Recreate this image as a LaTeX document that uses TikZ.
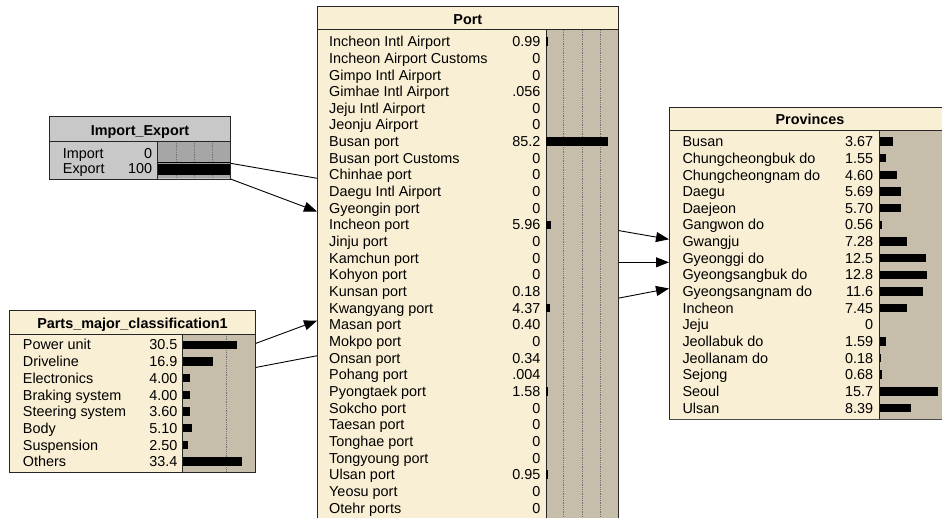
\documentclass[tikz,border=0pt]{standalone}
\usepackage{fontspec}
\setmainfont{Liberation Sans}
\usetikzlibrary{arrows.meta,calc}
\pgfdeclarelayer{back}
\pgfdeclarelayer{bg}
\pgfsetlayers{back,bg,main}
\definecolor{cream}{RGB}{249,239,212}
\definecolor{tanbar}{RGB}{198,190,170}
\definecolor{gbody}{RGB}{200,200,200}
\definecolor{gbar}{RGB}{166,166,166}
\begin{document}
\begin{tikzpicture}[x=1pt,y=-1pt,
 box/.style={draw=black!85, line width=0.9pt, inner sep=0, outer sep=0, anchor=north west},
 lab/.style={anchor=base west, inner sep=0, font=\fontsize{14.4}{16}\selectfont},
 val/.style={anchor=base east, inner sep=0, font=\fontsize{14.4}{16}\selectfont},
 ttl/.style={anchor=base, inner sep=0, font=\fontsize{14.4}{16}\selectfont\bfseries},
 sepln/.style={draw=black!85, line width=0.9pt},
 gridln/.style={draw=black!55, line width=0.6pt, dash pattern=on 0.9pt off 0.9pt},
 link/.style={draw=black, line width=0.9pt},
 arr/.style={link, -{Triangle[length=13pt,width=10pt]}}
]
\useasboundingbox (0,0) rectangle (942,518);
\clip (0,0) rectangle (942,518);
\begin{pgfonlayer}{back}
\fill[white] (0,0) rectangle (942,518);
\end{pgfonlayer}

% ---------- Import_Export ----------
\node[box, fill=gbody, minimum width=181pt, minimum height=63pt] (ie) at (49.5,116) {};
\fill[gbar] (157.5,141) rectangle (230,178.5);
\foreach \gx in {175.8,194.2,212.4} \draw[gridln] (\gx,141) -- (\gx,178.5);
\fill[black] (157.5,162.5) rectangle (230,175.5);
\draw[black!40, line width=0.6pt] (157.5,163.6) -- (230,163.6);
\draw[sepln] (49.5,141) -- (230.5,141);
\draw[sepln] (157.5,141) -- (157.5,179);
\draw[black!85, line width=0.9pt] (ie.north west) rectangle (ie.south east);
\node[ttl] (iet) at (140,136) {Import\_Export};
\node[lab] (iel1) at (62.7,158.3) {Import};
\node[val] (iev1) at (152.3,158.3) {0};
\node[lab] (iel2) at (62.7,173.5) {Export};
\node[val] (iev2) at (152.3,173.5) {100};

% ---------- Parts_major_classification1 ----------
\node[box, fill=cream, minimum width=246pt, minimum height=162.5pt] (parts) at (9.5,310) {};
\fill[tanbar] (182.7,334) rectangle (255,472);
\draw[gridln] (226.7,334) -- (226.7,472);
\draw[sepln] (9.5,334) -- (255.5,334);
\draw[sepln] (182.7,334) -- (182.7,472.5);
\draw[black!85, line width=0.9pt] (parts.north west) rectangle (parts.south east);
\node[ttl] (partst) at (132.5,328.3) {Parts\_major\_classification1};
\foreach \l/\v/\w [count=\i from 0] in {Power unit/30.5/54,Driveline/16.9/29.9,Electronics/4.00/7.1,Braking system/4.00/7.1,Steering system/3.60/6.4,Body/5.10/9,Suspension/2.50/4.4,Others/33.4/59.1} {
  \pgfmathsetmacro\yb{350+16.67*\i}
  \node[lab] (partsl\i) at (22.7,\yb) {\l};
  \node[val] (partsv\i) at (177.7,\yb) {\v};
  \fill[black] (183.2,{\yb-9.45}) rectangle ({183.2+\w},{\yb-0.95});
}

% ---------- Port ----------
\node[box, fill=cream, minimum width=301.5pt, minimum height=530pt] (port) at (317,6) {};
\fill[tanbar] (546,29.5) rectangle (618,536);
\foreach \gx in {563.6,582.4,600.6} \draw[gridln] (\gx,30) -- (\gx,536);
\draw[sepln] (317,29.5) -- (618.5,29.5);
\draw[sepln] (546,29.5) -- (546,536);
\draw[black!85, line width=0.9pt] (port.north west) rectangle (port.south east);
\node[ttl] (portt) at (467.8,25) {Port};
\foreach \l/\v/\w [count=\i from 0] in {Incheon Intl Airport/0.99/1.7,Incheon Airport Customs/0/0,Gimpo Intl Airport/0/0,Gimhae Intl Airport/.056/0,Jeju Intl Airport/0/0,Jeonju Airport/0/0,Busan port/85.2/61.7,Busan port Customs/0/0,Chinhae port/0/0,Daegu Intl Airport/0/0,Gyeongin port/0/0,Incheon port/5.96/4.6,Jinju port/0/0,Kamchun port/0/0,Kohyon port/0/0,Kunsan port/0.18/0,Kwangyang port/4.37/3.8,Masan port/0.40/0,Mokpo port/0/0,Onsan port/0.34/0,Pohang port/.004/0,Pyongtaek port/1.58/1.7,Sokcho port/0/0,Taesan port/0/0,Tonghae port/0/0,Tongyoung port/0/0,Ulsan port/0.95/1.7,Yeosu port/0/0,Otehr ports/0/0} {
  \pgfmathsetmacro\yb{46.7+16.66*\i}
  \node[lab] (portl\i) at (329,\yb) {\l};
  \node[val] (portv\i) at (540.7,\yb) {\v};
  \ifdim\w pt>0pt \fill[black] (546.4,{\yb-9.45}) rectangle ({546.4+\w},{\yb-0.95}); \fi
}

% ---------- Provinces ----------
\node[box, fill=cream, minimum width=290pt, minimum height=312pt] (prov) at (669,107) {};
\fill[tanbar] (879.3,130) rectangle (958,418.5);
\draw[sepln] (669,130) -- (959,130);
\draw[sepln] (879.3,130) -- (879.3,419);
\draw[black!85, line width=0.9pt] (prov.north west) rectangle (prov.south east);
\draw[black!70, line width=1.2pt] (669,419.6) -- (959,419.6);
\node[ttl] (provt) at (810,125) {Provinces};
\foreach \l/\v/\w [count=\i from 0] in {Busan/3.67/13.7,Chungcheongbuk do/1.55/5.8,Chungcheongnam do/4.60/17.1,Daegu/5.69/21.2,Daejeon/5.70/21.2,Gangwon do/0.56/2.1,Gwangju/7.28/27.1,Gyeonggi do/12.5/46.5,Gyeongsangbuk do/12.8/47.6,Gyeongsangnam do/11.6/43.2,Incheon/7.45/27.7,Jeju/0/0,Jeollabuk do/1.59/5.9,Jeollanam do/0.18/1.5,Sejong/0.68/2.5,Seoul/15.7/58.4,Ulsan/8.39/31.2} {
  \pgfmathsetmacro\yb{146.7+16.66*\i}
  \node[lab] (provl\i) at (682.3,\yb) {\l};
  \node[val] (provv\i) at (873.3,\yb) {\v};
  \ifdim\w pt>0pt \fill[black] (879.7,{\yb-9.45}) rectangle ({879.7+\w},{\yb-0.95}); \fi
}

% ---------- connectors (behind the boxes) ----------
\begin{pgfonlayer}{bg}
\draw[arr] ($(ie.north east)+(0,47.3)$) -- ($(prov.north west)+(0,132.3)$);
\draw[arr] (ie.south east) -- ($(port.north west)+(0,205.5)$);
\draw[arr] ($(parts.north east)+(0,33.5)$) -- ($(port.north west)+(0,314.7)$);
\draw[arr] ($(parts.north east)+(0,57.5)$) -- ($(prov.north west)+(0,181.5)$);
\draw[arr] ($(port.north east)+(0,256.3)$) -- ($(prov.north west)+(0,155.3)$);
\end{pgfonlayer}
\end{tikzpicture}
\end{document}
